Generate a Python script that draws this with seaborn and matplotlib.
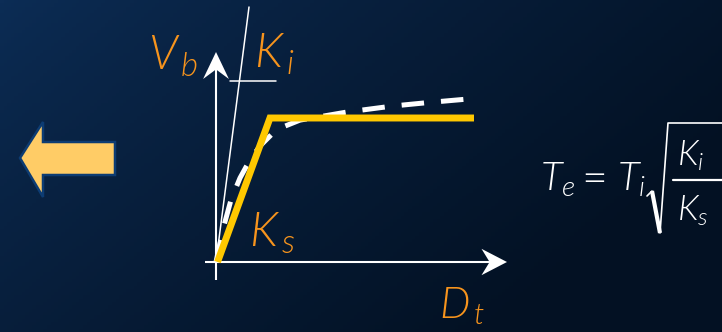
import numpy as np
import matplotlib
matplotlib.use("Agg")
import matplotlib.pyplot as plt
from matplotlib.patches import Polygon
import seaborn as sns

sns.set_style("white")
plt.rcParams["font.family"] = ["Lato", "DejaVu Sans"]
plt.rcParams["mathtext.fontset"] = "custom"
plt.rcParams["mathtext.it"] = "Lato:italic:weight=300"
plt.rcParams["mathtext.rm"] = "Lato:weight=300"

# Capacity-spectrum sketch (base shear V_b vs. top displacement D_t)
bilinear_disp = [0.05, 1.8, 8.6]
bilinear_shear = [0.0, 4.8, 4.8]

initial_disp = [0.0, 1.1]          # initial stiffness K_i
initial_shear = [0.0, 8.5]

curve_disp = [0.0, 0.1, 0.27, 0.5, 0.8, 1.13, 1.47, 1.87, 2.3, 2.8, 4.37, 5.9, 7.23, 8.37]
curve_shear = [0.0, 0.47, 1.23, 2.07, 2.8, 3.4, 3.87, 4.27, 4.53, 4.73, 5.0, 5.2, 5.33, 5.43]

stiff_tick_disp = [0.47, 2.0]
stiff_tick_shear = [6.03, 6.03]

W, H = 722, 332
ORANGE = "#F7941D"
YELLOW = "#FFC800"

fig = plt.figure(figsize=(W / 100, H / 100), dpi=100)

# background canvas in pixel units
bg = fig.add_axes([0, 0, 1, 1])
bg.set_xlim(0, W)
bg.set_ylim(H, 0)
bg.axis("off")
xx, yy = np.meshgrid(np.linspace(0, 1, 200), np.linspace(0, 1, 100))
t = np.clip(0.8 * xx + 0.45 * yy, 0, 1) ** 0.8
c0 = np.array([0x0C, 0x2D, 0x56]) / 255
c1 = np.array([0x03, 0x11, 0x23]) / 255
img = c0[None, None, :] * (1 - t[..., None]) + c1[None, None, :] * t[..., None]
bg.imshow(img, extent=[0, W, H, 0], aspect="auto", zorder=0)

# left arrow
arrow_pts = [(20, 158), (43, 122), (43, 142), (115, 142), (115, 175), (43, 175), (43, 197)]
bg.add_patch(Polygon(arrow_pts, closed=True, facecolor="#FFCC66",
                     edgecolor="#0D3C73", lw=1.8, zorder=2))

# diagram axes: origin at pixel (216, 262), 30 px per unit
ax = fig.add_axes([216 / W, 70 / H, 300 / W, 250 / H])
ax.set_xlim(0, 10)
ax.set_ylim(0, 250 / 30)
ax.patch.set_alpha(0)
ax.axis("off")

# coordinate axes
ax.plot([0, 0], [-0.6, 6.5], color="white", lw=1.5, clip_on=False, solid_capstyle="butt")
ax.plot([-0.37, 9.2], [0, 0], color="white", lw=1.5, clip_on=False, solid_capstyle="butt")
ax.add_patch(Polygon([(0, 7.0), (-0.43, 6.1), (0, 6.42), (0.43, 6.1)], closed=True,
                     facecolor="white", edgecolor="none", clip_on=False))
ax.add_patch(Polygon([(9.7, 0), (8.85, 0.44), (9.12, 0), (8.85, -0.44)], closed=True,
                     facecolor="white", edgecolor="none", clip_on=False))

# initial stiffness line and slope tick
sns.lineplot(x=initial_disp, y=initial_shear, ax=ax, color="white", lw=1.1,
             estimator=None, sort=False, legend=False)
sns.lineplot(x=stiff_tick_disp, y=stiff_tick_shear, ax=ax, color="white", lw=1.1,
             estimator=None, sort=False, legend=False)

# capacity curve (dashed)
sns.lineplot(x=curve_disp, y=curve_shear, ax=ax, color="white", lw=3.6,
             estimator=None, sort=False, legend=False)
ax.lines[-1].set_dashes((4.5, 3.4))
ax.lines[-1].set_dash_capstyle("butt")

# bilinear idealisation
sns.lineplot(x=bilinear_disp, y=bilinear_shear, ax=ax, color=YELLOW, lw=5,
             estimator=None, sort=False, legend=False)
ax.lines[-1].set_solid_joinstyle("miter")
ax.lines[-1].set_solid_capstyle("butt")
for ln in ax.lines:
    ln.set_clip_on(False)

# labels
lab = dict(color=ORANGE, ha="left", va="baseline", zorder=5)
bg.text(148, 70, r"$V_{\,b}$", fontsize=34, **lab)
bg.text(254, 68, r"$K_{\,i}$", fontsize=34, **lab)
bg.text(249, 247, r"$K_{\,s}$", fontsize=34, **lab)
bg.text(439, 318, r"$D_{\,t}$", fontsize=31, **lab)

# period formula
fl = dict(color="white", ha="left", va="baseline", zorder=5)
bg.text(540, 190, r"$T_{e}$", fontsize=29, **fl)
bg.text(575, 191, r"$=$", fontsize=32, **fl)
bg.text(617, 190, r"$T_{i}$", fontsize=29, **fl)
bg.text(677, 166, r"$K_{i}$", fontsize=25, **fl)
bg.text(677, 221, r"$K_{s}$", fontsize=25, **fl)
# radical sign and fraction bar
bg.plot([647, 652], [196, 191], color="white", lw=1.2, zorder=5)
bg.plot([652, 660], [191, 233], color="white", lw=3.0, zorder=5, solid_capstyle="butt")
bg.plot([660, 668, 722], [233, 123, 123], color="white", lw=1.2, zorder=5)
bg.plot([673, 722], [180, 180], color="white", lw=1.6, zorder=5)

fig.savefig("out.png", dpi=100)
